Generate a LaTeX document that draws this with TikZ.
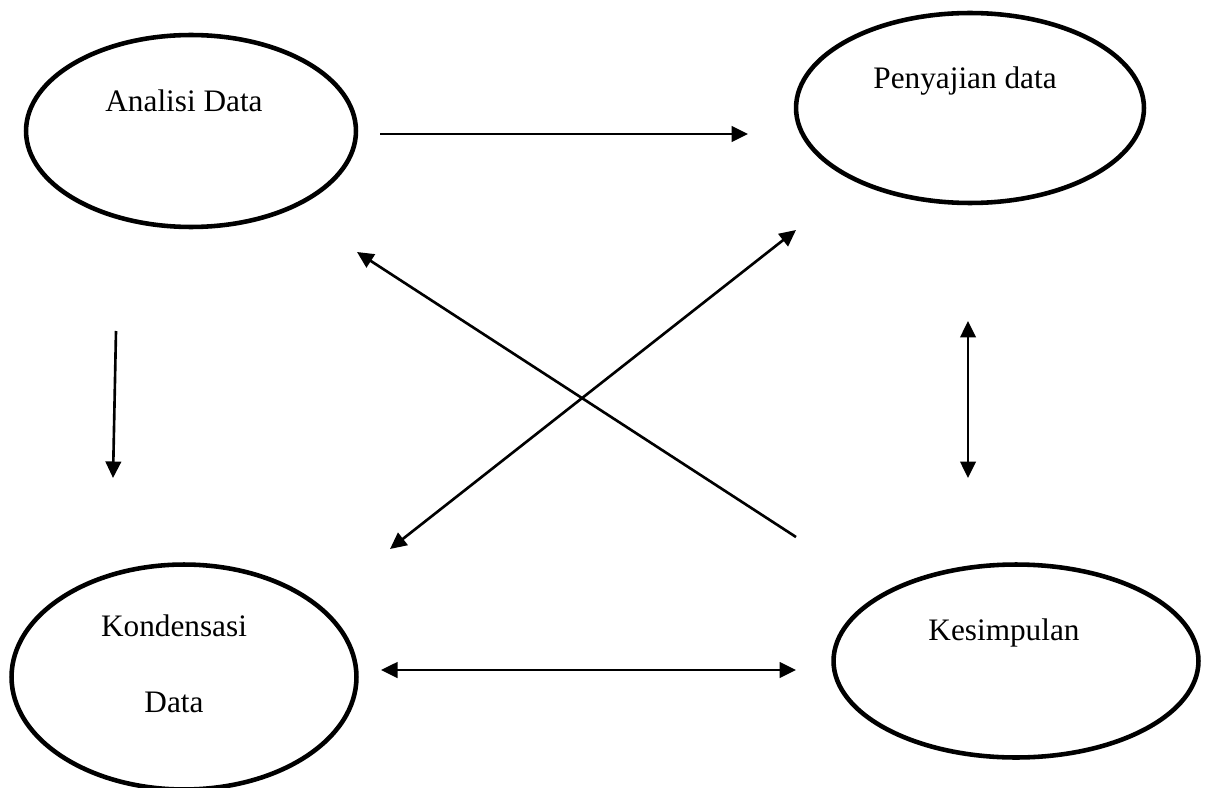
\documentclass[tikz,border=0pt]{standalone}
\usepackage{fontspec}
\setmainfont{Liberation Serif}
\usetikzlibrary{shapes.geometric,arrows.meta}

\begin{document}
\begin{tikzpicture}[x=0.02cm, y=-0.02cm,
    oval/.style={ellipse, draw, line width=2.6pt, inner sep=0pt},
    teks/.style={anchor=base, inner sep=0pt, align=center, font=\fontsize{17.8}{42.7}\selectfont},
    arrow/.style={-{Triangle[length=0.33cm, width=0.31cm]}, line width=1.5pt},
    biarrow/.style={{Triangle[length=0.33cm, width=0.31cm]}-{Triangle[length=0.33cm, width=0.31cm]}, line width=1.5pt}
]
\useasboundingbox (0,0) rectangle (1209,787);

\node[oval, minimum width=6.6cm, minimum height=3.84cm] (analisi) at (191,131) {};
\node[oval, minimum width=6.96cm, minimum height=3.8cm] (penyajian) at (970,108) {};
\node[oval, minimum width=6.9cm, minimum height=4.5cm] (kondensasi) at (184,677) {};
\node[oval, minimum width=7.3cm, minimum height=3.86cm] (kesimpulan) at (1016,661) {};

\node[teks] (analisi-txt) at (184,112) {Analisi Data};
\node[teks] (penyajian-txt) at (965,89) {Penyajian data};
\node[teks] (kondensasi-txt) at (174,712) {Kondensasi\\Data};
\node[teks] (kesimpulan-txt) at (1004,640) {Kesimpulan};

\coordinate (a1) at (380,134);
\coordinate (p1) at (748,134);
\coordinate (a2) at (116,331);
\coordinate (k1) at (113,478);
\coordinate (p2) at (968,321);
\coordinate (s1) at (968,478);
\coordinate (k2) at (381,670);
\coordinate (s2) at (796,670);
\coordinate (s3) at (796,537);
\coordinate (a3) at (357,252);
\coordinate (k3) at (390,549);
\coordinate (p3) at (796,230);

\draw[arrow] (a1) -- (p1);
\draw[arrow] (a2) -- (k1);
\draw[biarrow] (p2) -- (s1);
\draw[biarrow] (k2) -- (s2);
\draw[arrow] (s3) -- (a3);
\draw[biarrow] (k3) -- (p3);
\end{tikzpicture}
\end{document}
